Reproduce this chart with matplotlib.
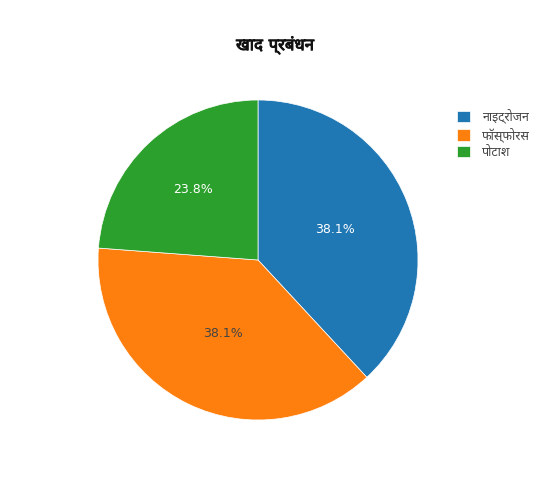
import matplotlib
matplotlib.use("Agg")
import numpy as np
import matplotlib.pyplot as plt
import matplotlib.patheffects as pe
from matplotlib import font_manager
from matplotlib.ft2font import FT2Font

# Data
labels = ["नाइट्रोजन", "फॉस्फोरस", "पोटाश"]
values = [40, 40, 25]
colors = ["#1f77b4", "#ff7f0e", "#2ca02c"]
text_colors = ["white", "#444444", "white"]
label_radius = [0.52, 0.51, 0.60]
title = "खाद प्रबंधन"


def devanagari_fonts():
    found = []
    for f in font_manager.fontManager.ttflist:
        try:
            cmap = FT2Font(f.fname).get_charmap()
        except Exception:
            continue
        if 0x0915 in cmap and 0x093E in cmap:
            found.append(f.name)
    return found


cands = devanagari_fonts()
deva = None
for pref in ["Noto Sans Devanagari", "Hind", "Mukta", "Lohit Devanagari", "FreeSans"]:
    if pref in cands:
        deva = pref
        break
if deva is None and cands:
    deva = cands[0]
plt.rcParams["font.family"] = ["DejaVu Sans"] + ([deva] if deva else [])

fig = plt.figure(figsize=(5.5, 5), dpi=100)
ax = fig.add_axes([98 / 550, 80 / 500, 320 / 550, 320 / 500])

wedges, texts, autotexts = ax.pie(
    values,
    colors=colors,
    startangle=90,
    counterclock=False,
    autopct="%1.1f%%",
    wedgeprops=dict(linewidth=0.5, edgecolor="white"),
    textprops=dict(fontsize=9),
)
# place percentage labels roughly where plotly puts them
for w, t, c, r in zip(wedges, autotexts, text_colors, label_radius):
    ang = np.deg2rad((w.theta1 + w.theta2) / 2)
    t.set_position((r * np.cos(ang), r * np.sin(ang)))
    t.set_color(c)
ax.set_xlim(-1, 1)
ax.set_ylim(-1, 1)
ax.set_aspect("equal")

fig.text(275 / 550, 1 - 45 / 500, title, ha="center", va="center",
         fontsize=12, fontweight="bold", color="#111111",
         path_effects=[pe.withStroke(linewidth=0.7, foreground="#111111")])

leg = fig.legend(wedges, labels, loc="upper left", bbox_to_anchor=(452 / 550, 1 - 104 / 500),
                 frameon=False, fontsize=9, handlelength=1.0, handleheight=1.0,
                 handletextpad=1.0, labelspacing=0.3, borderaxespad=0)
for t in leg.get_texts():
    t.set_color("#444444")

fig.savefig("out.png", dpi=100)
